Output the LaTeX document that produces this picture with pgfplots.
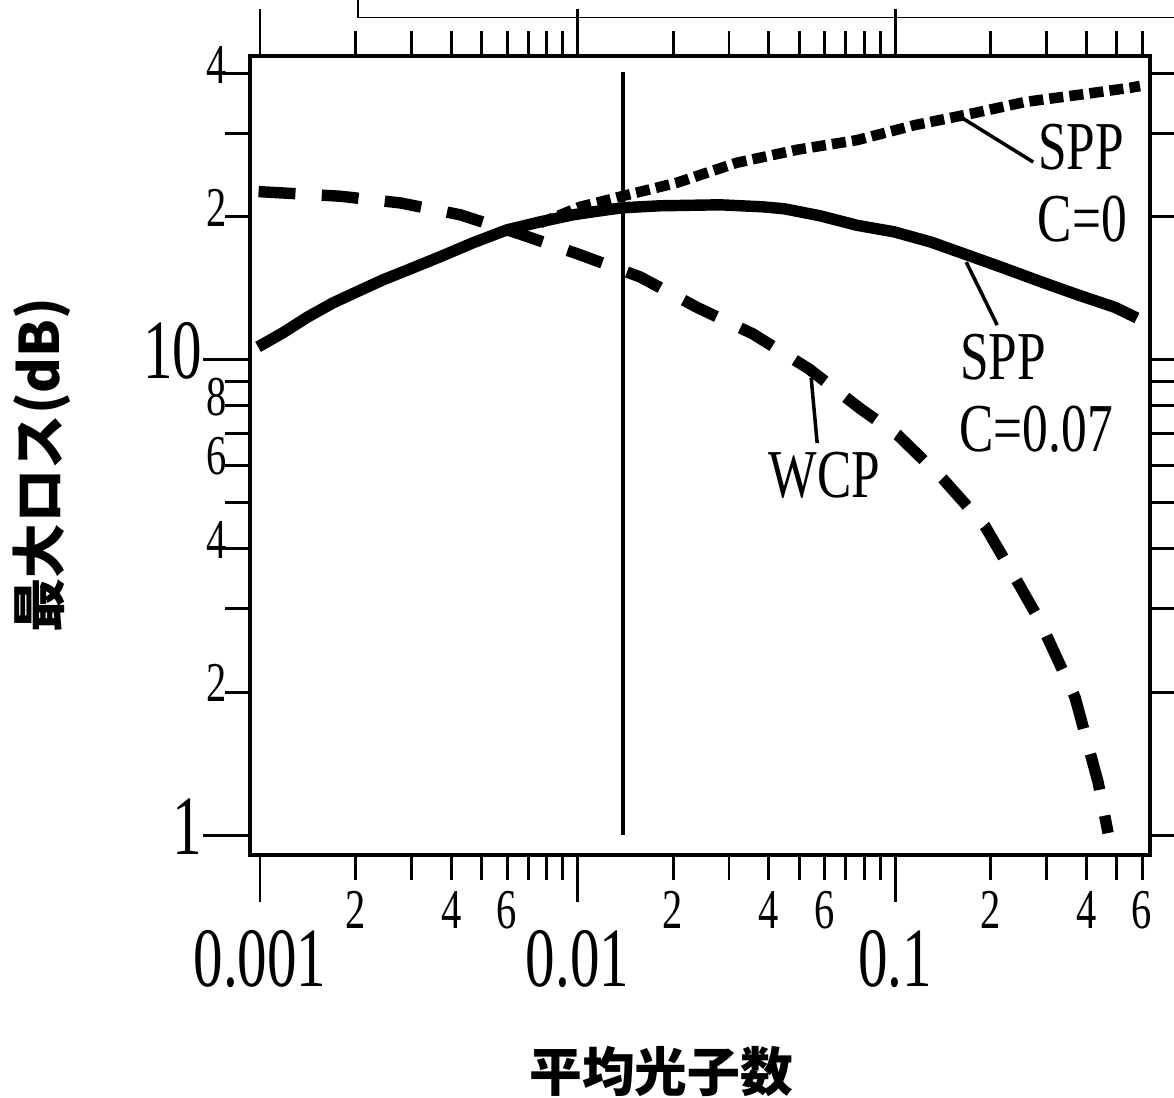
\documentclass[border=0pt]{standalone}
\usepackage{fontspec}
\usepackage{graphicx}
\usepackage{pgfplots}
\pgfplotsset{compat=1.18}
\setmainfont{Liberation Serif}
\newfontfamily\cjk{Noto Sans CJK JP}
\newcommand\bigdig[1]{\scalebox{0.7}[1]{\fontsize{48}{48}\selectfont #1}}
\newcommand\smldig[1]{\scalebox{0.72}[1]{\fontsize{32}{32}\selectfont #1}}
\newcommand\ann[1]{\scalebox{0.75}[1]{\fontsize{39}{39}\selectfont #1}}

\begin{document}
\begin{tikzpicture}
\useasboundingbox (0,0) rectangle (23.48,-21.94);
\begin{axis}[
  at={(5cm,-17.1cm)}, anchor=south west,
  scale only axis, width=18cm, height=15.98cm,
  xmode=log, ymode=log,
  xmin=0.00093, xmax=0.6355, ymin=0.908, ymax=43.6,
  axis line style={line width=2.8pt},
  tick align=outside,
  major tick length=27pt, minor tick length=14pt,
  every tick/.append style={line width=1.7pt, black},
  xtick={0.001,0.01,0.1},
  xticklabels={\bigdig{0.001},\bigdig{0.01},\bigdig{0.1}},
  minor xtick={0.002,0.003,0.004,0.005,0.006,0.007,0.008,0.009,
               0.02,0.03,0.04,0.05,0.06,0.07,0.08,0.09,
               0.2,0.3,0.4,0.5,0.6},
  ytick={1,10},
  yticklabels={\bigdig{1},\bigdig{10}},
  minor ytick={2,3,4,5,6,7,8,9,20,30,40},
  xticklabel style={anchor=north, inner sep=0pt, yshift=-15.5pt},
  yticklabel style={anchor=east, inner sep=0pt, yshift=5pt},
  extra x ticks={0.002,0.004,0.006,0.02,0.04,0.06,0.2,0.4,0.6},
  extra x tick labels={\smldig{2},\smldig{4},\smldig{6},\smldig{2},\smldig{4},\smldig{6},\smldig{2},\smldig{4},\smldig{6}},
  extra x tick style={major tick length=0pt, xticklabel style={yshift=-4.9pt}},
  extra y ticks={2,4,6,8,20,40},
  extra y tick labels={\smldig{2},\smldig{4},\smldig{6},\smldig{8},\smldig{2},\smldig{4}},
  extra y tick style={major tick length=0pt, yticklabel style={xshift=-13pt}},
]
% SPP C=0 (dotted)
\addplot[mark=none, line width=6pt, dash pattern=on 8pt off 3.5pt] coordinates {
(0.00762,19.4) (0.0102,21.0) (0.01178,21.5) (0.01343,22.0) (0.0206,23.6)
(0.0318,26.0) (0.0494,27.7) (0.0759,29.0) (0.1156,31.2) (0.175,33.0)
(0.257,34.9) (0.400,36.3) (0.553,37.4) (0.591,37.7)
};
% WCP (dashed)
\addplot[mark=none, line width=6.5pt, dash pattern=on 21pt off 15pt] coordinates {
(0.00099,22.6) (0.00179,22.1) (0.00276,21.4) (0.00427,20.2) (0.00659,18.4)
(0.01004,16.7) (0.01574,14.95) (0.02378,12.9) (0.0357,11.34) (0.0536,9.57)
(0.0781,7.88) (0.102,6.95) (0.1425,5.59) (0.192,4.47) (0.2475,3.34)
(0.286,2.82) (0.369,1.95) (0.436,1.293) (0.469,1.01)
};
% SPP C=0.07 (solid)
\addplot[mark=none, line width=6.5pt] coordinates {
(0.000986,10.65) (0.00118,11.40) (0.001416,12.32) (0.001698,13.18) (0.00202,13.91)
(0.00244,14.74) (0.00303,15.62) (0.00369,16.48) (0.00469,17.64) (0.0060,18.78)
(0.00762,19.52) (0.00968,20.2) (0.01239,20.69) (0.0139,20.9) (0.0182,21.1)
(0.0281,21.2) (0.0381,21.0) (0.0447,20.8) (0.0581,20.1) (0.0759,19.2)
(0.0993,18.6) (0.1298,17.7) (0.170,16.6) (0.2204,15.6) (0.2883,14.6)
(0.377,13.7) (0.493,12.9) (0.578,12.25)
};
% vertical reference line
\addplot[mark=none, line width=2.3pt] coordinates {(0.0139,1) (0.0139,40.4)};
\end{axis}
\begin{scope}[x=0.02cm, y=-0.02cm]
  \draw[line width=1pt] (358,-20) -- (358,17.5) -- (1200,17.5);
  \draw[line width=2pt] (962,118) -- (1033,162);
  \draw[line width=2pt] (966,262) -- (997,325);
  \draw[line width=2pt] (811,378) -- (817,443);
  \node at (1081,147) {\ann{SPP}};
  \node at (1082,219) {\ann{C=0}};
  \node at (1003,357) {\ann{SPP}};
  \node at (1036,429) {\ann{C=0.07}};
  \node at (824,475) {\ann{WCP}};
  \node[rotate=90] at (42,465) {\cjk\bfseries\fontsize{31}{31}\selectfont 最大ロス(dB)};
  \node at (661,1071) {\cjk\bfseries\fontsize{30}{30}\selectfont 平均光子数};
\end{scope}
\end{tikzpicture}
\end{document}
